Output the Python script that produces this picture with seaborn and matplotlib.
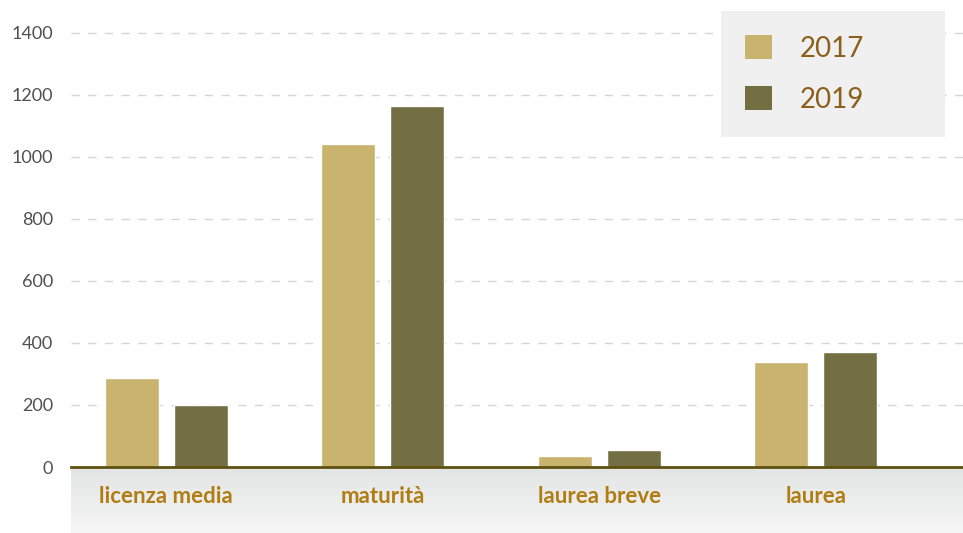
import matplotlib
matplotlib.use("Agg")
import matplotlib.pyplot as plt
import numpy as np
import pandas as pd
import seaborn as sns
from matplotlib.patches import Patch

categories = ["licenza media", "maturità", "laurea breve", "laurea"]
years = ["2017", "2019"]
values_2017 = [287, 1042, 35, 339]
values_2019 = [200, 1165, 55, 371]
y_ticks = [0, 200, 400, 600, 800, 1000, 1200, 1400]

COLORS = {"2017": "#c8b46e", "2019": "#736f43"}
LABEL_COLOR = "#b07d12"
LEGEND_TEXT = "#8c5f1c"

df = pd.DataFrame({
    "categoria": categories * 2,
    "anno": ["2017"] * len(categories) + ["2019"] * len(categories),
    "valore": values_2017 + values_2019,
})

sns.set_theme(style="white")
plt.rcParams["font.family"] = ["Lato", "DejaVu Sans"]

W, H = 963, 533
fig = plt.figure(figsize=(W / 100, H / 100), dpi=100)

# grey gradient band under the axis (darker at the top)
band = fig.add_axes([71 / W, 0, 892 / W, 66 / H])
grad = np.linspace(0, 1, 100).reshape(-1, 1)
band.imshow(grad, aspect="auto", origin="lower", extent=[0, 1, 0, 1],
            cmap=matplotlib.colors.LinearSegmentedColormap.from_list(
                "band", ["#f6f6f6", "#e3e4e4"]))
band.set_axis_off()

ax = fig.add_axes([71 / W, 66 / H, 892 / W, 467 / H])
ax.patch.set_alpha(0)
sns.barplot(data=df, x="categoria", y="valore", hue="anno", order=categories,
            hue_order=years, palette=COLORS, width=0.64, gap=0.22,
            saturation=1, ax=ax, legend=False)

ax.set_xlim(-0.44, 3.68)
ax.set_ylim(0, 1506)
ax.set_yticks(y_ticks)
ax.set_yticklabels([str(v) for v in y_ticks], fontsize=13, color="#505050")
ax.tick_params(axis="y", length=0, pad=13)
ax.tick_params(axis="x", length=0, pad=14)
for lbl in ax.get_xticklabels():
    lbl.set_fontsize(16)
    lbl.set_fontweight("bold")
    lbl.set_color(LABEL_COLOR)
for v in y_ticks[1:]:
    ax.axhline(v, color="#d6d6d6", lw=1, ls=(0, (6, 6)), zorder=0)
ax.set_xlabel("")
ax.set_ylabel("")
for side in ["top", "right", "left"]:
    ax.spines[side].set_visible(False)
ax.spines["bottom"].set_color("#5e5010")
ax.spines["bottom"].set_linewidth(2)

handles = [Patch(facecolor=COLORS[y], edgecolor="none") for y in years]
leg = ax.legend(handles, years, loc="upper left",
                bbox_to_anchor=(650 / 892, 1 - 11 / 467, 224 / 892, 0),
                mode="expand", frameon=True,
                fancybox=False, handlelength=0.95, handleheight=0.95,
                handletextpad=1.0, labelspacing=0.87, borderpad=0.88,
                borderaxespad=0, prop={"size": 20})
leg.get_frame().set_facecolor("#f0f0f0")
leg.get_frame().set_edgecolor("none")
leg.get_frame().set_alpha(1)
for t in leg.get_texts():
    t.set_color(LEGEND_TEXT)

fig.savefig("out.png", dpi=100)
